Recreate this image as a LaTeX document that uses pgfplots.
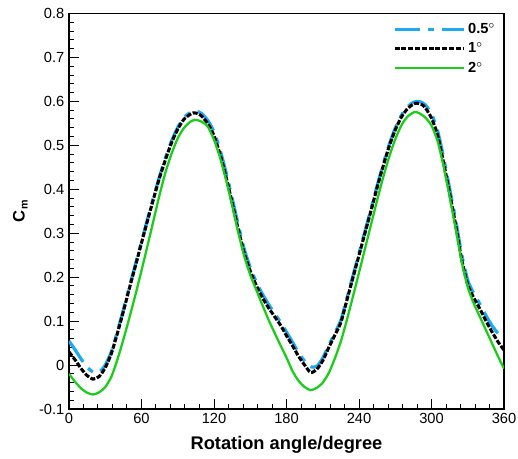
\documentclass[border=0pt]{standalone}
\usepackage{pgfplots}
\pgfplotsset{compat=1.18}
\usepackage{fontspec}
\setmainfont{Liberation Sans}
\definecolor{cblue}{RGB}{30,170,240}
\definecolor{cgreen}{RGB}{25,205,25}
\begin{document}
\begin{tikzpicture}
\useasboundingbox (-51.75pt,-37.5pt) rectangle (336.75pt,306.75pt);
\begin{axis}[
 at={(0,0)}, anchor=south west,
 scale only axis, width=326.25pt, height=296.6pt,
 xmin=0, xmax=360, ymin=-0.1, ymax=0.8,
 xtick={0,60,120,180,240,300,360},
 xticklabels={0,60,120,180,240,300,360},
 minor x tick num=4,
 ytick={-0.1,0,0.1,0.2,0.3,0.4,0.5,0.6,0.7,0.8},
 yticklabels={-0.1,0,0.1,0.2,0.3,0.4,0.5,0.6,0.7,0.8},
 minor y tick num=4,
 tick pos=left, tick align=inside,
 major tick length=7.5pt, minor tick length=4pt,
 every tick/.style={black, line width=0.75pt},
 axis line style={line width=1.2pt},
 ticklabel style={font=\fontsize{11}{13}\selectfont},
 /pgf/number format/assume math mode=true,
 xlabel={Rotation angle/degree},
 xlabel style={font=\bfseries\fontsize{13.7}{16}\selectfont, at={(axis description cs:0.5,-0.091)}, anchor=center},
 ylabel={C\raisebox{-0.35ex}{\fontsize{8}{9}\selectfont m}},
 ylabel style={font=\bfseries\fontsize{12.5}{15}\selectfont, at={(axis description cs:-0.112,0.5)}, anchor=center},
 legend style={draw=none, fill=none, at={(rel axis cs:0.735,0.99)}, anchor=north west, font=\bfseries\fontsize{11}{13}\selectfont, row sep=1.5pt},
 legend cell align=left,
 legend image code/.code={\draw[#1] (0pt,0pt) -- (52pt,0pt);},
]
\addplot[cblue, line width=2.4pt, dash pattern=on 19pt off 6pt on 4.5pt off 6pt, smooth, tension=0.4] coordinates {
(0,0.055)(5,0.035)(10,0.014)(15,-0.005)(20,-0.016)(25,-0.016)(30,0.000)(35,0.030)(40,0.076)(45,0.126)
(50,0.178)(55,0.229)(60,0.281)(65,0.332)(70,0.382)(75,0.430)(80,0.473)(85,0.511)(90,0.541)(95,0.563)
(100,0.574)(105,0.578)(110,0.572)(115,0.556)(120,0.531)(125,0.490)(130,0.438)(135,0.380)(140,0.320)(145,0.264)
(150,0.222)(155,0.189)(160,0.162)(165,0.139)(170,0.118)(175,0.098)(180,0.075)(185,0.052)(190,0.028)(195,0.009)
(200,-0.004)(205,-0.003)(210,0.016)(215,0.045)(220,0.073)(225,0.102)(230,0.152)(235,0.203)(240,0.254)(245,0.305)
(250,0.356)(255,0.408)(260,0.457)(265,0.502)(270,0.539)(275,0.568)(280,0.587)(285,0.598)(290,0.600)(295,0.592)
(300,0.571)(305,0.534)(310,0.472)(315,0.402)(320,0.330)(325,0.252)(330,0.193)(335,0.163)(340,0.139)(345,0.113)
(350,0.090)(355,0.072)};
\addlegendentry{0.5$^{\circ}$}
\addplot[black, line width=2.3pt, dash pattern=on 3.8pt off 1.3pt, smooth, tension=0.4] coordinates {
(0,0.030)(5,0.012)(10,-0.008)(15,-0.024)(20,-0.032)(25,-0.026)(30,-0.006)(35,0.026)(40,0.072)(45,0.122)
(50,0.175)(55,0.226)(60,0.278)(65,0.329)(70,0.379)(75,0.427)(80,0.469)(85,0.507)(90,0.537)(95,0.559)
(100,0.570)(103,0.574)(107,0.572)(110,0.566)(115,0.549)(120,0.522)(125,0.480)(130,0.428)(135,0.370)(140,0.310)
(145,0.255)(150,0.214)(155,0.181)(160,0.154)(165,0.131)(170,0.111)(175,0.091)(180,0.067)(185,0.044)(190,0.020)
(195,0.000)(200,-0.017)(205,-0.010)(210,0.010)(215,0.040)(220,0.068)(225,0.097)(230,0.148)(235,0.199)(240,0.250)
(245,0.301)(250,0.352)(255,0.404)(260,0.453)(265,0.498)(270,0.535)(275,0.564)(280,0.583)(285,0.594)(288,0.596)
(292,0.593)(295,0.585)(300,0.562)(305,0.524)(310,0.461)(315,0.391)(320,0.319)(325,0.240)(330,0.183)(335,0.153)
(340,0.128)(345,0.101)(350,0.076)(355,0.053)(360,0.034)};
\addlegendentry{1$^{\circ}$}
\addplot[cgreen, line width=1.7pt, smooth, tension=0.4] coordinates {
(0,-0.020)(5,-0.038)(10,-0.053)(15,-0.063)(20,-0.067)(25,-0.062)(30,-0.050)(35,-0.027)(40,0.012)(45,0.058)
(50,0.108)(55,0.160)(60,0.215)(65,0.272)(70,0.330)(75,0.388)(80,0.440)(85,0.482)(90,0.516)(95,0.539)
(100,0.553)(104,0.558)(108,0.556)(112,0.550)(115,0.542)(120,0.513)(125,0.472)(130,0.421)(135,0.363)(140,0.303)
(145,0.248)(150,0.205)(155,0.171)(160,0.137)(165,0.104)(170,0.074)(175,0.045)(180,0.017)(185,-0.014)(190,-0.036)
(195,-0.050)(200,-0.057)(205,-0.052)(210,-0.040)(215,-0.018)(220,0.015)(225,0.054)(230,0.103)(235,0.156)(240,0.210)
(245,0.265)(250,0.320)(255,0.375)(260,0.427)(265,0.474)(270,0.514)(275,0.545)(280,0.565)(286,0.576)(290,0.573)
(295,0.563)(300,0.545)(305,0.510)(310,0.452)(315,0.383)(320,0.310)(325,0.235)(330,0.177)(335,0.140)(340,0.110)
(345,0.080)(350,0.050)(355,0.020)(360,-0.008)};
\addlegendentry{2$^{\circ}$}
\end{axis}
\end{tikzpicture}
\end{document}
